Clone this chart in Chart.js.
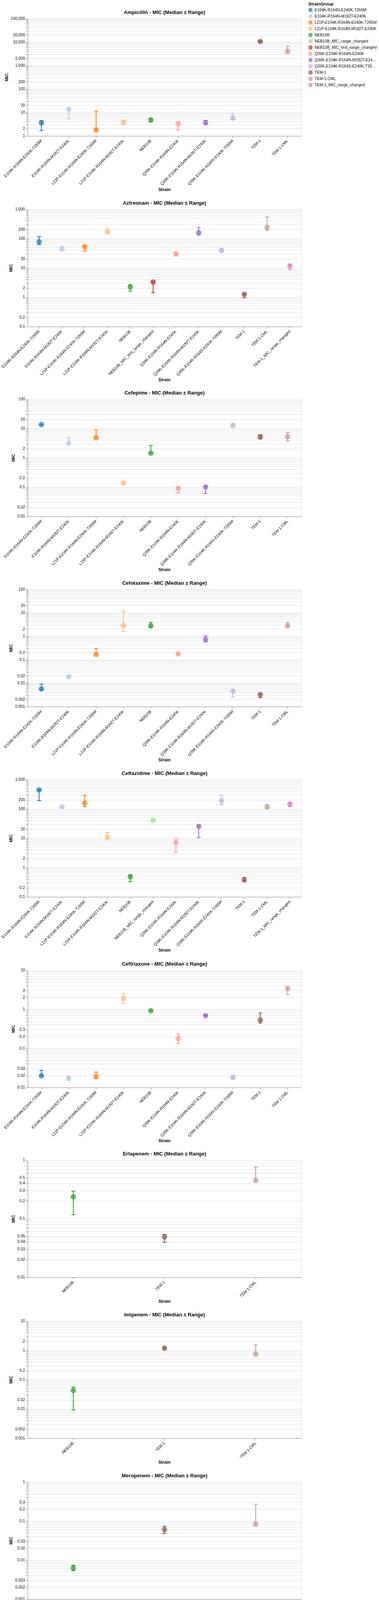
<!DOCTYPE html>
<html>
<head>
<meta charset="utf-8">
<title>MIC (Median ± Range)</title>
<script src="https://cdn.jsdelivr.net/npm/chart.js@4.4.1/dist/chart.umd.min.js"></script>
<style>
  body { margin: 0; background: #fff; font-family: "Liberation Sans", Arial, sans-serif; }
  #page { position: relative; width: 971px; height: 4168px; overflow: hidden; }
  #page canvas { position: absolute; left: 0; }
  #legend { position: absolute; left: 790px; top: 3px; z-index: 2; color: #000; }
  #legend .title { font-weight: bold; font-size: 11px; height: 14px; line-height: 14px; }
  #legend .row { display: flex; align-items: center; height: 16px; font-size: 10px; }
  #legend .dot { width: 11px; height: 11px; border-radius: 50%; margin-right: 5px; flex: none; }
  #legend .lbl { max-width: 160px; white-space: nowrap; overflow: hidden; text-overflow: ellipsis; }
</style>
</head>
<body>
<div id="page">
  <div id="legend"><div class="title">StrainGroup</div></div>
</div>
<script>
// legend groups + tableau20 colours
const strainGroups = [
  'E104K-R164N-E240K-T265M',
  'E104K-R164N-M182T-E240K',
  'L21P-E104K-R164N-E240K-T265M',
  'L21P-E104K-R164N-M182T-E240K',
  'NEB10B',
  'NEB10B_MIC_range_changed',
  'NEB10B_MIC_test_range_changed',
  'Q39K-E104K-R164N-E240K',
  'Q39K-E104K-R164N-M182T-E240K',
  'Q39K-E104K-R164S-E240K-T265M',
  'TEM-1',
  'TEM-1-CML',
  'TEM-1_MIC_range_changed'
];
const groupColors = ['#1f77b4', '#aec7e8', '#ff7f0e', '#ffbb78', '#2ca02c', '#98df8a', '#d62728',
  '#ff9896', '#9467bd', '#c5b0d5', '#8c564b', '#c49c94', '#e377c2'];

// categories
const strains10 = ['E104K-R164N-E240K-T265M', 'E104K-R164N-M182T-E240K', 'L21P-E104K-R164N-E240K-T265M',
  'L21P-E104K-R164N-M182T-E240K', 'NEB10B', 'Q39K-E104K-R164N-E240K', 'Q39K-E104K-R164N-M182T-E240K',
  'Q39K-E104K-R164S-E240K-T265M', 'TEM-1', 'TEM-1-CML'];
const strainsAzt = ['E104K-R164N-E240K-T265M', 'E104K-R164N-M182T-E240K', 'L21P-E104K-R164N-E240K-T265M',
  'L21P-E104K-R164N-M182T-E240K', 'NEB10B', 'NEB10B_MIC_test_range_changed', 'Q39K-E104K-R164N-E240K',
  'Q39K-E104K-R164N-M182T-E240K', 'Q39K-E104K-R164S-E240K-T265M', 'TEM-1', 'TEM-1-CML', 'TEM-1_MIC_range_changed'];
const strainsCaz = ['E104K-R164N-E240K-T265M', 'E104K-R164N-M182T-E240K', 'L21P-E104K-R164N-E240K-T265M',
  'L21P-E104K-R164N-M182T-E240K', 'NEB10B', 'NEB10B_MIC_range_changed', 'Q39K-E104K-R164N-E240K',
  'Q39K-E104K-R164N-M182T-E240K', 'Q39K-E104K-R164S-E240K-T265M', 'TEM-1', 'TEM-1-CML', 'TEM-1_MIC_range_changed'];
const strains3 = ['NEB10B', 'TEM-1', 'TEM-1-CML'];

// values: median, min, max
const ampMedian = [3.6, 13.8, 1.82, 3.93, 4.76, 3.29, 3.69, 5.77, 10800, 4030];
const ampMin    = [1.73, 5.5, 1.82, 3.1, 4.0, 1.82, 3.16, 4.9, 10400, 3550];
const ampMax    = [4.5, 16, 11.4, 4.5, 5.5, 4.1, 4.6, 9.0, 11200, 6740];

const aztMedian = [78, 44.9, 53.4, 173, 2.27, 3.32, 30, 160, 39.7, 1.27, 243, 11.8];
const aztMin    = [63, 38.5, 37.7, 153, 1.62, 1.43, 27, 134, 35.8, 0.96, 194, 8.8];
const aztMax    = [117, 54, 57, 226, 2.65, 3.5, 33.5, 240, 45.8, 1.3, 552, 12.9];

const fepMedian = [13.6, 3.15, 4.83, 0.139, 1.445, 0.092, 0.101, 12.7, 5.2, 5.2];
const fepMin    = [13.6, 3.0, 4.83, 0.128, 1.44, 0.064, 0.06, 12.0, 4.4, 3.75];
const fepMax    = [13.6, 5.09, 8.94, 0.145, 2.64, 0.097, 0.107, 14.3, 6.1, 7.36];

const ctxMedian = [0.0057, 0.019, 0.167, 2.97, 2.78, 0.178, 0.736, 0.00453, 0.00329, 2.78];
const ctxMin    = [0.0052, 0.018, 0.165, 1.63, 2.5, 0.17, 0.58, 0.00255, 0.00239, 2.7];
const ctxMax    = [0.0091, 0.020, 0.308, 11.5, 3.93, 0.186, 1.05, 0.0050, 0.0035, 3.9];

const cazMedian = [450, 118, 158, 10.7, 0.49, 40.6, 7.2, 25.4, 194, 0.378, 118, 147.5];
const cazMin    = [194, 112, 120, 10, 0.33, 40.6, 3.38, 10.6, 140, 0.35, 105, 121];
const cazMax    = [450, 124, 293, 15.8, 0.54, 40.6, 9.9, 27.5, 296, 0.46, 140, 160];

const croMedian = [0.02, 0.0175, 0.0192, 1.93, 0.923, 0.18, 0.695, 0.0182, 0.535, 3.41];
const croMin    = [0.02, 0.0153, 0.0169, 1.43, 0.923, 0.135, 0.68, 0.017, 0.445, 2.39];
const croMax    = [0.0274, 0.0185, 0.0249, 2.55, 0.923, 0.233, 0.71, 0.0195, 0.81, 3.7];

const etpMedian = [0.237, 0.0487, 0.452];
const etpMin    = [0.117, 0.0397, 0.43];
const etpMax    = [0.294, 0.0542, 0.758];

const ipmMedian = [0.0428, 1.18, 0.751];
const ipmMin    = [0.0091, 1.13, 0.68];
const ipmMax    = [0.0558, 1.32, 1.54];

const memMedian = [0.0063, 0.0607, 0.0845];
const memMin    = [0.0054, 0.0482, 0.075];
const memMax    = [0.0074, 0.0736, 0.269];

// labelled y ticks
const ampTicks = [1, 2, 10, 20, 100, 200, 1000, 2000, 10000, 20000, 100000];
const aztTicks = [0.1, 0.2, 1, 2, 10, 20, 100, 200, 1000];
const fepTicks = [0.01, 0.02, 0.1, 0.2, 1, 2, 10, 20, 100];
const ctxTicks = [0.001, 0.002, 0.01, 0.02, 0.1, 0.2, 1, 2, 10, 20, 100];
const cazTicks = [0.1, 0.2, 1, 2, 10, 20, 100, 200, 1000];
const croTicks = [0.01, 0.02, 0.03, 0.1, 0.2, 0.3, 1, 2, 3, 10];
const etpTicks = [0.01, 0.02, 0.03, 0.04, 0.05, 0.1, 0.2, 0.3, 0.4, 0.5, 1];
const ipmTicks = [0.001, 0.002, 0.01, 0.02, 0.1, 0.2, 1, 2, 10];
const memTicks = [0.001, 0.002, 0.003, 0.01, 0.02, 0.03, 0.1, 0.2, 0.3, 1];

Chart.defaults.font.family = '"Liberation Sans", Arial, sans-serif';
Chart.defaults.color = '#000';

const FONT = '"Liberation Sans", Arial, sans-serif';
const PLOT_H = 300;
const TOP_PAD = 48;
const CANVAS_W = 843;

// legend
const legend = document.getElementById('legend');
strainGroups.forEach((g, i) => {
  const row = document.createElement('div');
  row.className = 'row';
  row.innerHTML = '<span class="dot"></span><span class="lbl"></span>';
  row.querySelector('.dot').style.background = rgba(groupColors[i], 0.7);
  row.querySelector('.lbl').textContent = g;
  legend.appendChild(row);
});

function rgba(hex, a) {
  const n = parseInt(hex.slice(1), 16);
  return 'rgba(' + (n >> 16) + ',' + ((n >> 8) & 255) + ',' + (n & 255) + ',' + a + ')';
}

// all 1..9 x 10^e positions for the log grid
function logGrid(lo, hi) {
  const out = [];
  for (let e = Math.round(Math.log10(lo)); e < Math.round(Math.log10(hi)); e++) {
    for (let k = 1; k < 10; k++) out.push(Number((k * Math.pow(10, e)).toPrecision(6)));
  }
  out.push(hi);
  return out;
}

function fmt(v) {
  return v >= 1 ? v.toLocaleString('en-US') : String(v);
}

function makePanel(p) {
  const cv = document.createElement('canvas');
  const h = TOP_PAD + PLOT_H + p.space;
  cv.width = CANVAS_W;
  cv.height = h;
  cv.style.top = (p.top - TOP_PAD) + 'px';
  document.getElementById('page').appendChild(cv);

  const colors = p.strains.map(s => groupColors[strainGroups.indexOf(s)]);
  const labelled = v => p.ticks.some(t => Math.abs(t - v) / t < 1e-6);

  const panelPlugin = {
    id: 'panel',
    beforeDatasetsDraw(chart) {
      const { ctx, chartArea: a } = chart;
      ctx.save();
      ctx.strokeStyle = '#ddd';
      ctx.lineWidth = 1;
      ctx.beginPath();
      ctx.moveTo(a.left, a.top + 0.5);
      ctx.lineTo(a.right + 0.5, a.top + 0.5);
      ctx.lineTo(a.right + 0.5, a.bottom);
      ctx.stroke();
      ctx.restore();
    },
    afterDatasetsDraw(chart) {
      const { ctx, scales: { x, y } } = chart;
      ctx.save();
      ctx.lineWidth = 2;
      p.min.forEach((lo, i) => {
        const px = x.getPixelForValue(i);
        const y1 = y.getPixelForValue(lo);
        const y2 = y.getPixelForValue(p.max[i]);
        ctx.strokeStyle = colors[i];
        ctx.beginPath();
        ctx.moveTo(px, y1); ctx.lineTo(px, y2);
        ctx.moveTo(px - 5, y1); ctx.lineTo(px + 5, y1);
        ctx.moveTo(px - 5, y2); ctx.lineTo(px + 5, y2);
        ctx.stroke();
      });
      ctx.restore();
    },
    afterDraw(chart) {
      const { ctx, chartArea: a } = chart;
      const cx = (a.left + a.right) / 2;
      ctx.save();
      ctx.fillStyle = '#000';
      ctx.textAlign = 'center';
      ctx.textBaseline = 'middle';
      ctx.font = 'bold 13px ' + FONT;
      ctx.fillText(p.name + ' - MIC (Median \u00b1 Range)', cx, a.top - 16);
      ctx.font = 'bold 11px ' + FONT;
      ctx.fillText('Strain', cx, a.bottom + p.strainGap);
      // y title sits left of the widest tick label
      ctx.font = '10px ' + FONT;
      const w = Math.max(...p.ticks.map(t => ctx.measureText(fmt(t)).width));
      ctx.font = 'bold 11px ' + FONT;
      ctx.translate(a.left - 7 - w - 4 - 6, (a.top + a.bottom) / 2);
      ctx.rotate(-Math.PI / 2);
      ctx.fillText('MIC', 0, 0);
      ctx.restore();
    }
  };

  new Chart(cv, {
    type: 'line',
    data: {
      labels: p.strains,
      datasets: [{
        data: p.median,
        showLine: false,
        pointRadius: 7,
        pointHoverRadius: 7,
        pointBorderWidth: 0,
        pointBackgroundColor: colors.map(c => rgba(c, 0.7))
      }]
    },
    options: {
      responsive: false,
      animation: false,
      events: [],
      layout: { padding: { top: TOP_PAD, left: 0, right: CANVAS_W - 772, bottom: 0 } },
      plugins: { legend: { display: false }, tooltip: { enabled: false } },
      scales: {
        x: {
          type: 'category',
          offset: true,
          border: { color: '#888' },
          grid: { drawOnChartArea: false, tickLength: 5, tickColor: '#888', offset: false },
          ticks: { autoSkip: false, minRotation: 45, maxRotation: 45, padding: 2, font: { size: 10 }, color: '#000' },
          afterFit: s => { s.height = p.space; s.paddingLeft = 0; s.paddingRight = 0; }
        },
        y: {
          type: 'logarithmic',
          min: p.yMin,
          max: p.yMax,
          border: { color: '#888' },
          grid: { color: '#ddd', tickColor: '#888', tickLength: 5 },
          ticks: {
            autoSkip: false,
            padding: 2,
            font: { size: 10 },
            color: '#000',
            callback: v => labelled(v) ? fmt(v) : ''
          },
          afterBuildTicks: s => { s.ticks = logGrid(p.yMin, p.yMax).map(v => ({ value: v })); },
          afterFit: s => { s.width = 71; }
        }
      }
    },
    plugins: [panelPlugin]
  });
}

const panels = [
  { name: 'Ampicillin', strains: strains10, median: ampMedian, min: ampMin, max: ampMax, ticks: ampTicks, yMin: 1, yMax: 100000, top: 48, space: 150, strainGap: 138 },
  { name: 'Aztreonam', strains: strainsAzt, median: aztMedian, min: aztMin, max: aztMax, ticks: aztTicks, yMin: 0.1, yMax: 1000, top: 536, space: 150, strainGap: 137 },
  { name: 'Cefepime', strains: strains10, median: fepMedian, min: fepMin, max: fepMax, ticks: fepTicks, yMin: 0.01, yMax: 100, top: 1022, space: 150, strainGap: 137 },
  { name: 'Cefotaxime', strains: strains10, median: ctxMedian, min: ctxMin, max: ctxMax, ticks: ctxTicks, yMin: 0.001, yMax: 100, top: 1509, space: 150, strainGap: 137 },
  { name: 'Ceftazidime', strains: strainsCaz, median: cazMedian, min: cazMin, max: cazMax, ticks: cazTicks, yMin: 0.1, yMax: 1000, top: 1996, space: 150, strainGap: 137 },
  { name: 'Ceftriaxone', strains: strains10, median: croMedian, min: croMin, max: croMax, ticks: croTicks, yMin: 0.01, yMax: 10, top: 2484, space: 150, strainGap: 137 },
  { name: 'Ertapenem', strains: strains3, median: etpMedian, min: etpMin, max: etpMax, ticks: etpTicks, yMin: 0.01, yMax: 1, top: 2970, space: 75, strainGap: 62 },
  { name: 'Imipenem', strains: strains3, median: ipmMedian, min: ipmMin, max: ipmMax, ticks: ipmTicks, yMin: 0.001, yMax: 10, top: 3382, space: 75, strainGap: 62 },
  { name: 'Meropenem', strains: strains3, median: memMedian, min: memMin, max: memMax, ticks: memTicks, yMin: 0.001, yMax: 1, top: 3794, space: 75, strainGap: 62 }
];

panels.forEach(makePanel);
</script>
</body>
</html>
